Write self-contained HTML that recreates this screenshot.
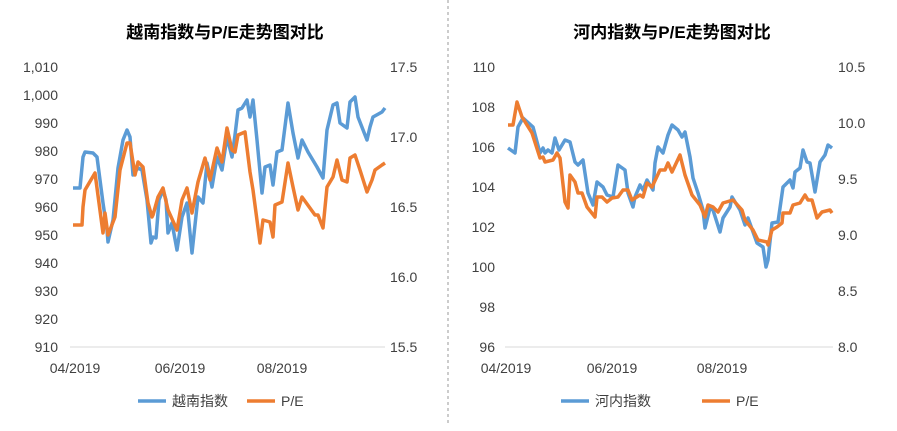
<!DOCTYPE html>
<html><head><meta charset="utf-8"><style>
body{margin:0;background:#fff}
svg text{font-family:"Liberation Sans","Noto Sans CJK SC",sans-serif;fill:#404040;font-size:14px}
.t{font-size:17px;font-weight:bold;fill:#000}
.b{fill:none;stroke:#5b9bd5;stroke-width:3.5;stroke-linejoin:round}
.o{fill:none;stroke:#ed7d31;stroke-width:3.5;stroke-linejoin:round}
</style></head><body>
<svg width="897" height="426" viewBox="0 0 897 426" xmlns="http://www.w3.org/2000/svg">
<line x1="448" y1="0" x2="448" y2="426" stroke="#999" stroke-dasharray="3,3"/>
<text class="t" x="225" y="38" text-anchor="middle">越南指数与P/E走势图对比</text>
<text class="t" x="672" y="38" text-anchor="middle">河内指数与P/E走势图对比</text>
<g text-anchor="end">
<text x="58" y="72">1,010</text><text x="58" y="100">1,000</text><text x="58" y="128">990</text><text x="58" y="156">980</text><text x="58" y="184">970</text><text x="58" y="212">960</text><text x="58" y="240">950</text><text x="58" y="268">940</text><text x="58" y="296">930</text><text x="58" y="324">920</text><text x="58" y="352">910</text>
<text x="495" y="72">110</text><text x="495" y="112">108</text><text x="495" y="152">106</text><text x="495" y="192">104</text><text x="495" y="232">102</text><text x="495" y="272">100</text><text x="495" y="312">98</text><text x="495" y="352">96</text>
</g>
<g>
<text x="390" y="72">17.5</text><text x="390" y="142">17.0</text><text x="390" y="212">16.5</text><text x="390" y="282">16.0</text><text x="390" y="352">15.5</text>
<text x="838" y="72">10.5</text><text x="838" y="128">10.0</text><text x="838" y="184">9.5</text><text x="838" y="240">9.0</text><text x="838" y="296">8.5</text><text x="838" y="352">8.0</text>
</g>
<line x1="70" y1="347" x2="385" y2="347" stroke="#d9d9d9"/>
<line x1="505" y1="347" x2="833" y2="347" stroke="#d9d9d9"/>
<g text-anchor="middle">
<text x="75" y="373">04/2019</text><text x="180" y="373">06/2019</text><text x="282" y="373">08/2019</text>
<text x="506" y="373">04/2019</text><text x="612" y="373">06/2019</text><text x="722" y="373">08/2019</text>
</g>
<polyline class="b" points="73,188 80,188 83,157 85,152 93,153 97,157 103,203 107,230 108,242 113,220 118,168 123,140 127,130 130,137 133,175 138,168 142,170 147,200 151,243 153,237 156,238 159,200 163,190 166,200 168,233 172,223 177,250 182,217 187,203 192,253 198,197 203,203 207,163 212,187 217,157 222,170 227,137 232,157 235,135 238,110 242,108 247,100 250,117 253,100 257,140 262,193 265,167 270,165 273,185 277,152 282,150 288,103 293,133 298,158 302,140 308,152 317,167 323,178 327,130 333,105 337,103 340,123 347,128 350,102 355,97 358,117 367,140 370,127 373,117 382,112 385,108"/>
<polyline class="o" points="73,225 82,225 83,207 85,190 95,173 103,233 105,213 108,235 115,217 120,170 127,143 130,143 135,175 138,162 143,167 148,203 152,217 153,215 158,197 163,188 168,210 177,230 182,200 187,188 192,213 198,182 205,158 210,180 217,148 222,162 227,128 232,150 235,152 238,135 245,132 250,172 253,190 260,243 263,220 270,222 273,237 275,205 282,202 288,163 293,187 298,210 302,197 315,215 318,215 323,228 327,187 333,177 337,160 342,180 347,182 350,158 355,155 360,170 367,192 372,180 375,170 382,165 385,163"/>
<polyline class="b" points="508,148 515,153 518,127 523,118 533,127 540,153 543,148 545,153 548,150 552,153 555,138 559,150 565,140 570,142 575,162 578,165 583,160 588,193 593,205 597,182 603,187 607,195 613,197 618,165 625,170 628,193 633,207 635,197 640,185 643,190 647,180 653,190 655,163 658,147 663,153 668,135 672,125 678,130 682,137 685,132 690,157 693,178 698,193 703,210 705,228 710,208 713,210 720,232 723,218 730,207 732,197 740,210 745,225 748,218 757,243 763,247 766,267 768,260 772,223 778,222 783,187 790,180 793,188 795,172 800,168 803,150 807,162 810,163 815,192 820,162 825,155 828,145 832,148"/>
<polyline class="o" points="508,125 513,125 517,102 522,117 532,133 540,158 543,157 545,162 553,160 557,153 560,158 565,202 568,208 570,175 575,182 578,193 582,193 587,207 595,217 597,197 602,197 607,202 612,198 618,197 623,190 628,190 632,200 640,195 643,197 647,183 652,187 660,170 665,170 668,163 672,172 680,155 685,175 692,195 700,205 705,217 708,205 713,207 718,212 723,203 733,200 742,210 745,220 753,230 758,240 767,242 768,245 772,230 777,227 782,223 783,213 790,213 793,205 800,203 805,195 808,200 812,200 817,218 822,212 830,210 832,213"/>
<line x1="138" y1="401" x2="166" y2="401" stroke="#5b9bd5" stroke-width="3.5"/><text x="172" y="406">越南指数</text>
<line x1="247" y1="401" x2="275" y2="401" stroke="#ed7d31" stroke-width="3.5"/><text x="281" y="406">P/E</text>
<line x1="561" y1="401" x2="589" y2="401" stroke="#5b9bd5" stroke-width="3.5"/><text x="595" y="406">河内指数</text>
<line x1="702" y1="401" x2="730" y2="401" stroke="#ed7d31" stroke-width="3.5"/><text x="736" y="406">P/E</text>
</svg>
</body></html>
